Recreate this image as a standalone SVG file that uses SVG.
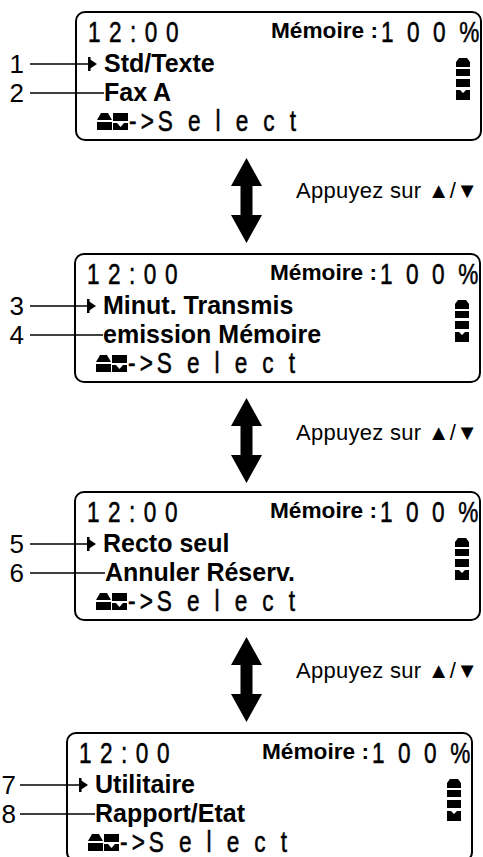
<svg xmlns="http://www.w3.org/2000/svg" xmlns:xlink="http://www.w3.org/1999/xlink" width="483" height="857" viewBox="0 0 483 857">
<defs>
<style>
.box{fill:none;stroke:#000;stroke-width:2}
.lcd{font-family:"Liberation Sans",Arial,sans-serif;font-size:29px;fill:#000;stroke:#000;stroke-width:0.5}
.mem{font-family:"Liberation Sans",Arial,sans-serif;font-size:22px;font-weight:bold;fill:#000}
.item{font-family:"Liberation Sans",Arial,sans-serif;font-size:25px;font-weight:bold;fill:#000}
.num{font-family:"Liberation Sans",Arial,sans-serif;font-size:26px;fill:#000}
.note{font-family:"Liberation Sans",Arial,sans-serif;font-size:22px;fill:#000}
.tri{font-size:22px}
.lead{stroke:#000;stroke-width:1.3;fill:none}
</style>
<g id="upIcon"><path d="M4,0 H11 L15,7 H0 Z"/><rect y="9" width="15" height="8"/></g>
<g id="downIcon"><rect width="15" height="8"/><path d="M0,10 H4 L7.5,14 L11,10 H15 V17 H0 Z"/></g>
<g id="scroll">
<path d="M3,0 H11 L14,4 V9 H0 V4 Z"/>
<rect y="11" width="14" height="7"/>
<rect y="21" width="14" height="8"/>
<path d="M0,32 H4 L7,35 L10,32 H14 V42 H0 Z"/>
</g>
<g id="pointer"><path d="M0,0 L9,6 L0,12 Z"/><rect x="0" y="-1" width="2.5" height="14"/></g>
<path id="dblArrow" d="M0,0 L15.5,28 H6 V57 H15.5 L0,85 L-15.5,57 H-6 V28 H-15.5 Z"/>
</defs>
<rect width="483" height="857" fill="#fff"/>

<g id="screen1" transform="translate(76,12)">
<rect class="box" width="405" height="128" rx="9"/>
<text class="lcd" transform="translate(12,30) scale(0.78,1)" textLength="116" lengthAdjust="spacing">12:00</text>
<text class="mem" x="195" y="26" textLength="107" lengthAdjust="spacingAndGlyphs">Mémoire :</text>
<text class="lcd" transform="translate(305,30) scale(0.78,1)" textLength="126" lengthAdjust="spacing">100%</text>
<use xlink:href="#pointer" x="12" y="46"/>
<text class="item" x="28" y="60">Std/Texte</text>
<text class="item" x="28" y="89">Fax A</text>
<use xlink:href="#scroll" x="380" y="46"/>
<use xlink:href="#upIcon" x="21" y="101"/>
<use xlink:href="#downIcon" x="37" y="101"/>
<text class="lcd" transform="translate(53,119) scale(0.78,1)"><tspan x="0" textLength="32" lengthAdjust="spacing">-&gt;</tspan><tspan x="37" textLength="177" lengthAdjust="spacing">Select</tspan></text>
</g>

<g id="screen2" transform="translate(75,254)">
<rect class="box" width="405" height="128" rx="9"/>
<text class="lcd" transform="translate(12,30) scale(0.78,1)" textLength="116" lengthAdjust="spacing">12:00</text>
<text class="mem" x="195" y="26" textLength="107" lengthAdjust="spacingAndGlyphs">Mémoire :</text>
<text class="lcd" transform="translate(305,30) scale(0.78,1)" textLength="126" lengthAdjust="spacing">100%</text>
<use xlink:href="#pointer" x="12" y="46"/>
<text class="item" x="28" y="60">Minut. Transmis</text>
<text class="item" x="28" y="89">emission Mémoire</text>
<use xlink:href="#scroll" x="380" y="46"/>
<use xlink:href="#upIcon" x="21" y="101"/>
<use xlink:href="#downIcon" x="37" y="101"/>
<text class="lcd" transform="translate(53,119) scale(0.78,1)"><tspan x="0" textLength="32" lengthAdjust="spacing">-&gt;</tspan><tspan x="37" textLength="177" lengthAdjust="spacing">Select</tspan></text>
</g>

<g id="screen3" transform="translate(75,492)">
<rect class="box" width="405" height="128" rx="9"/>
<text class="lcd" transform="translate(12,30) scale(0.78,1)" textLength="116" lengthAdjust="spacing">12:00</text>
<text class="mem" x="195" y="26" textLength="107" lengthAdjust="spacingAndGlyphs">Mémoire :</text>
<text class="lcd" transform="translate(305,30) scale(0.78,1)" textLength="126" lengthAdjust="spacing">100%</text>
<use xlink:href="#pointer" x="12" y="46"/>
<text class="item" x="28" y="60">Recto seul</text>
<text class="item" x="30" y="89">Annuler Réserv.</text>
<use xlink:href="#scroll" x="380" y="46"/>
<use xlink:href="#upIcon" x="21" y="101"/>
<use xlink:href="#downIcon" x="37" y="101"/>
<text class="lcd" transform="translate(53,119) scale(0.78,1)"><tspan x="0" textLength="32" lengthAdjust="spacing">-&gt;</tspan><tspan x="37" textLength="177" lengthAdjust="spacing">Select</tspan></text>
</g>

<g id="screen4" transform="translate(67,733)">
<rect class="box" width="405" height="128" rx="9"/>
<text class="lcd" transform="translate(12,30) scale(0.78,1)" textLength="116" lengthAdjust="spacing">12:00</text>
<text class="mem" x="195" y="26" textLength="107" lengthAdjust="spacingAndGlyphs">Mémoire :</text>
<text class="lcd" transform="translate(305,30) scale(0.78,1)" textLength="126" lengthAdjust="spacing">100%</text>
<use xlink:href="#pointer" x="12" y="46"/>
<text class="item" x="28" y="60">Utilitaire</text>
<text class="item" x="28" y="89">Rapport/Etat</text>
<use xlink:href="#scroll" x="380" y="46"/>
<use xlink:href="#upIcon" x="21" y="101"/>
<use xlink:href="#downIcon" x="37" y="101"/>
<text class="lcd" transform="translate(53,119) scale(0.78,1)"><tspan x="0" textLength="32" lengthAdjust="spacing">-&gt;</tspan><tspan x="37" textLength="177" lengthAdjust="spacing">Select</tspan></text>
</g>

<g id="connectors">
<line class="lead" x1="30" y1="64" x2="88" y2="64"/>
<line class="lead" x1="30" y1="93" x2="104" y2="93"/>
<line class="lead" x1="30" y1="306" x2="87" y2="306"/>
<line class="lead" x1="30" y1="335" x2="103" y2="335"/>
<line class="lead" x1="30" y1="544" x2="87" y2="544"/>
<line class="lead" x1="30" y1="573" x2="105" y2="573"/>
<line class="lead" x1="20" y1="785" x2="79" y2="785"/>
<line class="lead" x1="20" y1="814" x2="95" y2="814"/>
<use xlink:href="#dblArrow" x="246.5" y="158"/>
<use xlink:href="#dblArrow" x="246.5" y="398"/>
<use xlink:href="#dblArrow" x="246.5" y="637"/>
</g>

<g id="callouts">
<text class="num" x="24" y="73" text-anchor="end">1</text>
<text class="num" x="24" y="102" text-anchor="end">2</text>
<text class="num" x="24" y="315" text-anchor="end">3</text>
<text class="num" x="24" y="344" text-anchor="end">4</text>
<text class="num" x="24" y="553" text-anchor="end">5</text>
<text class="num" x="24" y="582" text-anchor="end">6</text>
<text class="num" x="16" y="794" text-anchor="end">7</text>
<text class="num" x="16" y="823" text-anchor="end">8</text>
</g>

<g id="notes">
<text class="note" x="296" y="198" textLength="182" lengthAdjust="spacing">Appuyez sur <tspan class="tri">▲</tspan>/<tspan class="tri">▼</tspan></text>
<text class="note" x="296" y="440" textLength="182" lengthAdjust="spacing">Appuyez sur <tspan class="tri">▲</tspan>/<tspan class="tri">▼</tspan></text>
<text class="note" x="296" y="678" textLength="182" lengthAdjust="spacing">Appuyez sur <tspan class="tri">▲</tspan>/<tspan class="tri">▼</tspan></text>
</g>
</svg>
